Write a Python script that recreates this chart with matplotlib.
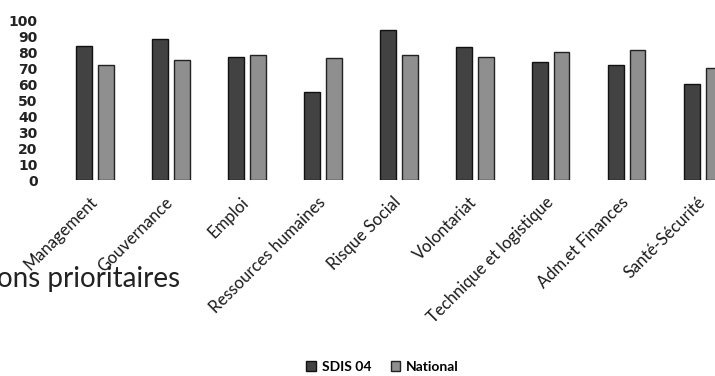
import matplotlib.pyplot as plt
import matplotlib.transforms as mtransforms
import numpy as np

categories = ["Management", "Gouvernance", "Emploi", "Ressources humaines", "Risque Social",
              "Volontariat", "Technique et logistique", "Adm.et Finances", "Santé-Sécurité"]
sdis04 = [84, 88, 77, 55, 94, 83, 74, 72, 60]
national = [72, 75, 78, 76, 78, 77, 80, 81, 70]
yticks = [0, 10, 20, 30, 40, 50, 60, 70, 80, 90, 100]

fig = plt.figure(figsize=(7.15, 3.76), dpi=100)
ax = fig.add_axes([57 / 715, 1 - 180 / 376, 1 - 57 / 715, 160 / 376])

x = np.arange(len(categories))
w = 0.21
ax.bar(x - 0.14, sdis04, w, color='#424242', edgecolor='#111111', linewidth=1.0, label='SDIS 04')
ax.bar(x + 0.14, national, w, color='#8f8f8f', edgecolor='#222222', linewidth=1.0, label='National')

ax.set_xlim(-0.5, 8.16)
ax.set_ylim(0, 100)
ax.set_yticks(yticks)
ax.set_yticklabels([str(t) for t in yticks], fontsize=10, fontweight='bold', color='#222222')
ax.tick_params(axis='y', length=0, pad=14)
ax.set_xticks(x)
ax.set_xticklabels(categories, rotation=45, ha='right', rotation_mode='anchor',
                   fontsize=12, family='Lato', color='#1a1a1a')
ax.tick_params(axis='x', length=0, pad=10)
# shift labels a little left so the rotated text ends near the group centre
offset = mtransforms.ScaledTranslation(-6 / 100, 0, fig.dpi_scale_trans)
for lab in ax.get_xticklabels():
    lab.set_transform(lab.get_transform() + offset)
for s in ax.spines.values():
    s.set_visible(False)

fig.text(-0.004, 1 - 279 / 376, "ons prioritaires", fontsize=20, family='Lato',
         color='#222222', va='center', ha='left')

fig.legend(loc='center', bbox_to_anchor=(0.535, 1 - 367 / 376), ncol=2, frameon=False,
           prop={'family': 'Lato', 'weight': 'bold', 'size': 10},
           handlelength=0.7, handleheight=0.7, handletextpad=0.4, columnspacing=1.4)

fig.savefig('out.png', dpi=100)
